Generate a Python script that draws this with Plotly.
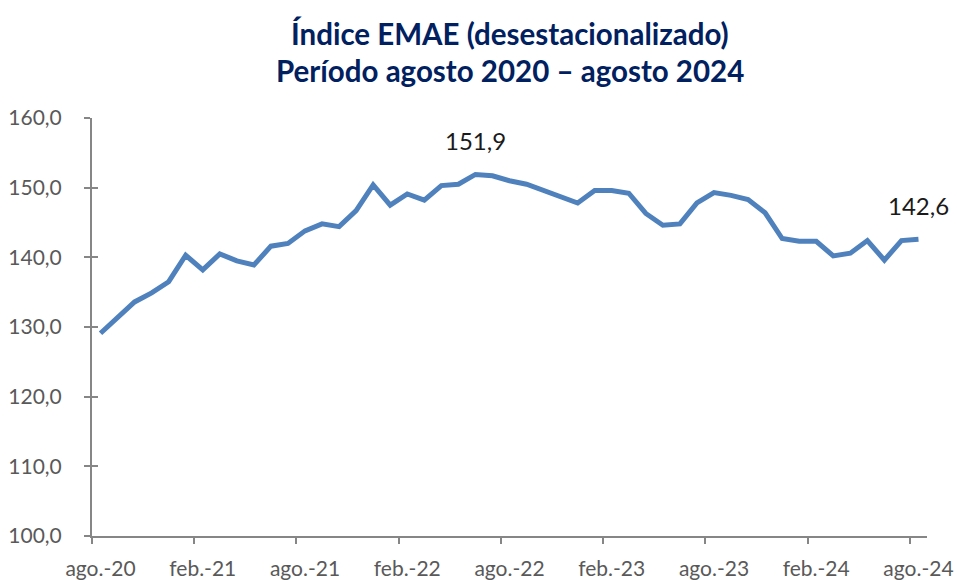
import plotly.graph_objects as go

months = ["ene.", "feb.", "mar.", "abr.", "may.", "jun.", "jul.", "ago.", "sep.", "oct.", "nov.", "dic."]
categories = []
for k in range(49):
    m = (7 + k) % 12
    y = 20 + (7 + k) // 12
    categories.append(f"{months[m]}-{y}")

emae = [129.1, 131.3, 133.6, 134.9, 136.5, 140.3, 138.2, 140.5, 139.5, 138.9,
        141.6, 142.0, 143.8, 144.8, 144.4, 146.7, 150.4, 147.5, 149.1, 148.2,
        150.3, 150.5, 151.9, 151.7, 151.0, 150.5, 149.6, 148.7, 147.8, 149.6,
        149.6, 149.2, 146.3, 144.6, 144.8, 147.8, 149.3, 148.9, 148.3, 146.4,
        142.7, 142.3, 142.3, 140.2, 140.6, 142.4, 139.6, 142.4, 142.6]

label_idx = [22, 48]
tick_label_idx = list(range(0, 49, 6))
y_ticks = [100, 110, 120, 130, 140, 150, 160]

title_lines = ["Índice EMAE (desestacionalizado)", "Período agosto 2020 – agosto 2024"]

x = list(range(len(emae)))
axis_col = "#868686"
lab_col = "#595959"

fig = go.Figure()
fig.add_trace(go.Scatter(x=x, y=emae, mode="lines",
                         line=dict(color="#4F81BD", width=5), hoverinfo="skip",
                         showlegend=False))
# helper invisible trace so overlay axes exist
fig.add_trace(go.Scatter(x=x, y=emae, xaxis="x2", yaxis="y2", mode="lines",
                         line=dict(width=0), opacity=0, showlegend=False, hoverinfo="skip"))

boundaries = [i - 0.5 for i in tick_label_idx]

fig.update_layout(
    width=957, height=580,
    paper_bgcolor="white", plot_bgcolor="white",
    margin=dict(l=92, r=30, t=118, b=44, autoexpand=False),
    separators=",.",
    xaxis=dict(range=[-0.5, 48.5], tickmode="array", tickvals=boundaries,
               ticks="outside", ticklen=6, tickwidth=1.5, tickcolor=axis_col,
               showticklabels=False, showline=True, linecolor=axis_col, linewidth=2,
               showgrid=False, zeroline=False, automargin=False),
    xaxis2=dict(range=[-0.5, 48.5], overlaying="x", anchor="y", side="bottom",
                tickmode="array", tickvals=tick_label_idx,
                ticktext=[categories[i] for i in tick_label_idx],
                ticks="", showline=False, showgrid=False, zeroline=False,
                ticklabelstandoff=18, automargin=False,
                tickfont=dict(family="Lato", size=21, color=lab_col)),
    yaxis=dict(range=[100, 160], tickmode="array", tickvals=y_ticks, tickformat=".1f",
               ticks="outside", ticklen=6, tickwidth=1.5, tickcolor=axis_col,
               showline=True, linecolor=axis_col, linewidth=2, showgrid=False,
               zeroline=False, ticklabelstandoff=18, automargin=False,
               tickfont=dict(family="Lato", size=21, color=lab_col)),
    yaxis2=dict(range=[100, 160], overlaying="y", anchor="x", side="left",
                tickmode="array", tickvals=y_ticks, ticks="inside", ticklen=6,
                tickwidth=1.5, tickcolor=axis_col, showticklabels=False,
                showline=False, showgrid=False, zeroline=False, automargin=False),
)

for j, (line, ypx) in enumerate(zip(title_lines, [33, 71])):
    fig.add_annotation(x=0.5, xref="paper", xanchor="center",
                       y=1 + (118 - ypx) / (580 - 118 - 44), yref="paper", yanchor="middle",
                       text=f"<b>{line}</b>", showarrow=False,
                       font=dict(family="Lato", size=29.5, color="#002060"))

for i in label_idx:
    fig.add_annotation(x=i, y=emae[i], xref="x", yref="y",
                       text=f"{emae[i]:.1f}".replace(".", ","), showarrow=False,
                       yshift=34, font=dict(family="Lato", size=24, color="#1a1a1a"))

fig.write_html("out.html", config={"displayModeBar": False},
               post_script="document.body.style.margin='0';document.body.style.padding='0';")
